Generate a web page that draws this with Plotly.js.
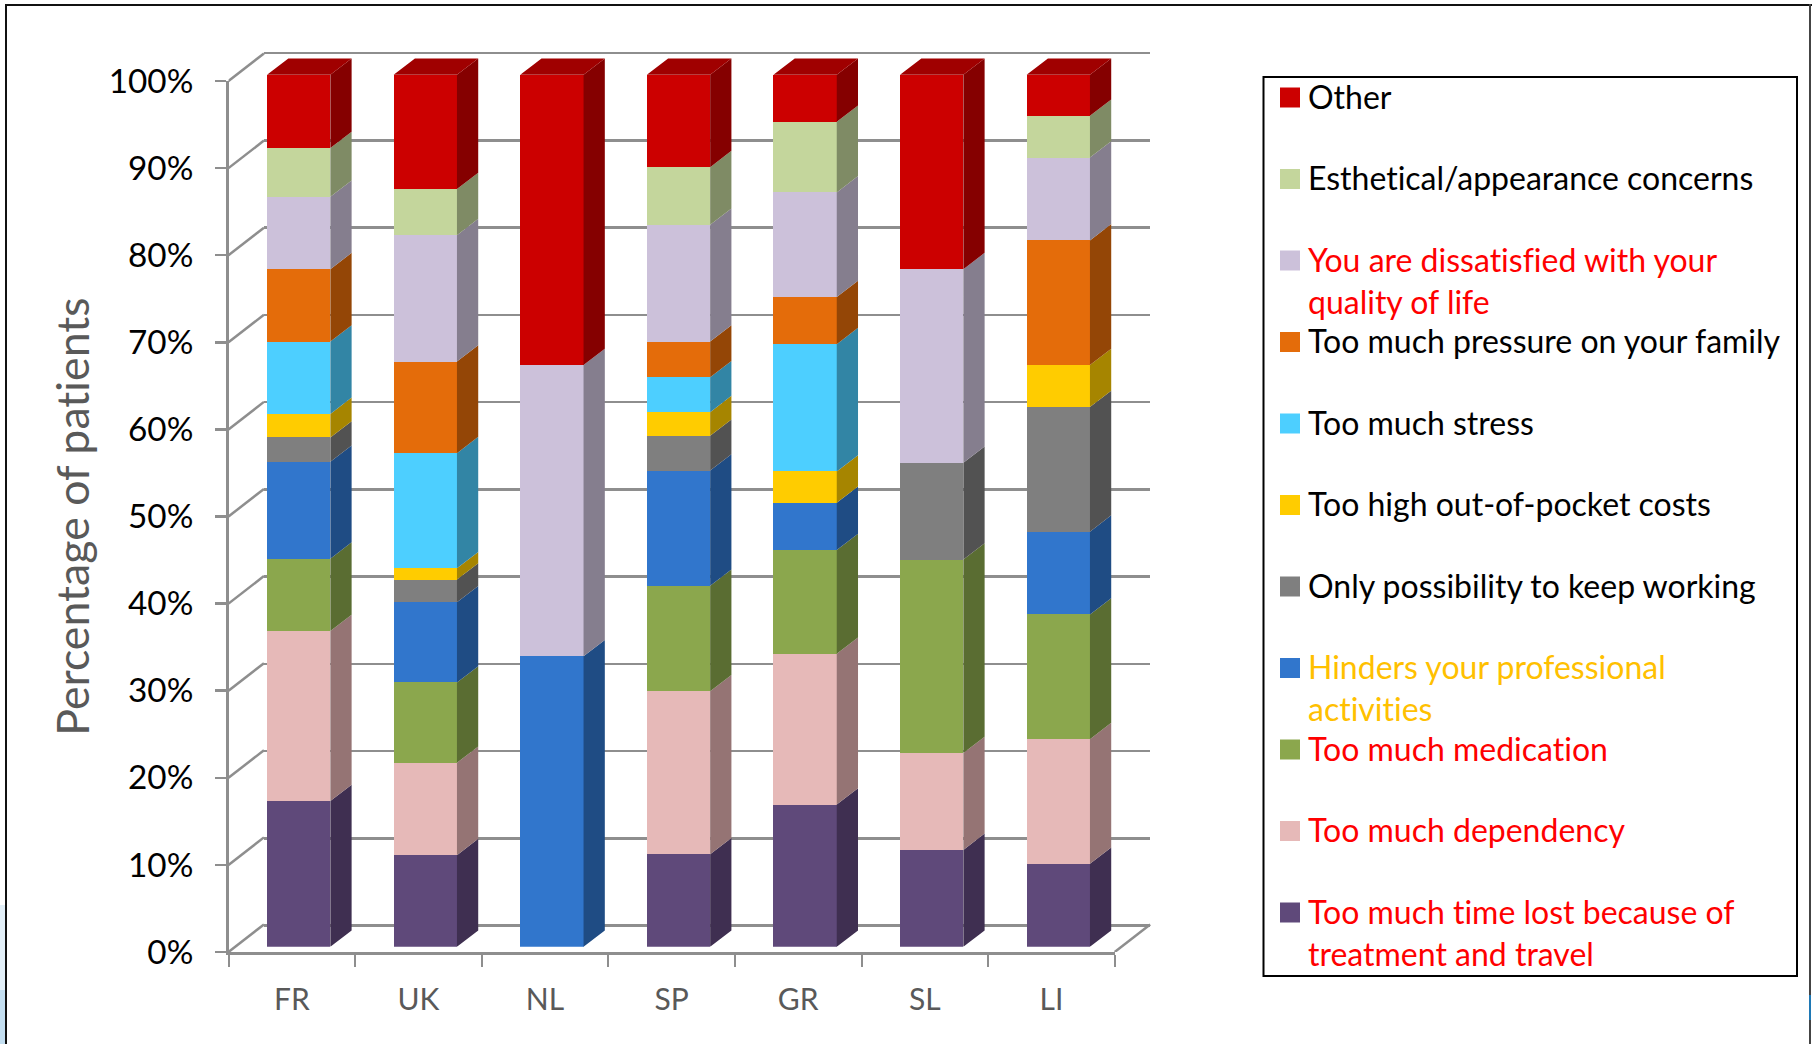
<!DOCTYPE html>
<html><head><meta charset="utf-8">
<script src="https://cdn.plot.ly/plotly-3.0.1.min.js"></script>
<style>html,body{margin:0;padding:0;background:#fff}#c{width:1812px;height:1044px}svg text{font-variant-ligatures:none !important;font-feature-settings:"liga" 0,"clig" 0 !important}</style>
</head><body><div id="c"></div>
<script>
const countries = ["FR","UK","NL","SP","GR","SL","LI"];
const seriesNames = [
  "Too much time lost because of treatment and travel",
  "Too much dependency",
  "Too much medication",
  "Hinders your professional activities",
  "Only possibility to keep working",
  "Too high out-of-pocket costs",
  "Too much stress",
  "Too much pressure on your family",
  "You are dissatisfied with your quality of life",
  "Esthetical/appearance concerns",
  "Other"
];
const legendLines = [
  ["Too much time lost because of","treatment and travel"],
  ["Too much dependency"],
  ["Too much medication"],
  ["Hinders your professional","activities"],
  ["Only possibility to keep working"],
  ["Too high out-of-pocket costs"],
  ["Too much stress"],
  ["Too much pressure on your family"],
  ["You are dissatisfied with your","quality of life"],
  ["Esthetical/appearance concerns"],
  ["Other"]
];
const legendTextColors = ["#FF0000","#FF0000","#FF0000","#FFC000","#000000","#000000","#000000","#000000","#FF0000","#000000","#000000"];
const faceColors = ["#5F497A","#E6B9B8","#8BA74D","#3176CC","#7F7F7F","#FFCC00","#4DCFFF","#E46C0A","#CCC1DA","#C4D69C","#CC0000"];
const sideColors = ["#3F2F51","#957474","#5A6D32","#1F4C84","#525252","#A68500","#3285A5","#944606","#857E8E","#7F8B65","#850000"];
const topColor = "#A00000";
const timeLost   = [16.7,10.5, 0,  10.6,16.3,11.1, 9.5];
const dependency = [19.5,10.6, 0,  18.7,17.3,11.1,14.3];
const medication = [ 8.3, 9.2, 0,  12.1,11.9,22.2,14.3];
const hinders    = [11.1, 9.2,33.3,13.2, 5.4, 0,   9.5];
const keepWorking= [ 2.8, 2.6, 0,   4.0, 0,  11.1,14.3];
const costs      = [ 2.7, 1.3, 0,   2.7, 3.6, 0,   4.8];
const stress     = [ 8.3,13.2, 0,   4.0,14.6, 0,   0  ];
const family     = [ 8.3,10.5, 0,   4.1, 5.4, 0,  14.3];
const quality    = [ 8.3,14.5,33.4,13.4,12.0,22.2, 9.5];
const esthetical = [ 5.6, 5.3, 0,   6.6, 8.1, 0,   4.8];
const other      = [ 8.4,13.1,33.3,10.6, 5.4,22.3, 4.7];
const seriesValues = [timeLost,dependency,medication,hinders,keepWorking,costs,stress,family,quality,esthetical,other];

const W=1812,H=1044,gray="#8E8E8E",textGray="#595959";
const FONT="Lato, 'Open Sans', sans-serif";
const fx=p=>p/W, fy=p=>1-p/H;
const barWidth=0.5, idx=countries.map((_,i)=>i);
const sideDX=0.168, sideDY=1.87;      // bar depth, in axis units
const wallDX=0.28, wallDY=3.16;       // chart depth, in axis units
const traces=[];

// back wall axes (x,y) carry the gridlines
traces.push({x:[0],y:[0],xaxis:"x",yaxis:"y",mode:"markers",marker:{opacity:0},hoverinfo:"skip",showlegend:false});
// side-wall diagonals and floor edge (x2,y2: front-plane scale, room for the depth)
const yTicks=[0,10,20,30,40,50,60,70,80,90,100];
const dx=[],dy=[];
yTicks.forEach(v=>{dx.push(-0.5,-0.5+wallDX,null);dy.push(v,v+wallDY,null);});
dx.push(6.5,6.5+wallDX);dy.push(0,wallDY);
traces.push({x:dx,y:dy,xaxis:"x2",yaxis:"y2",mode:"lines",line:{color:gray,width:2.5},hoverinfo:"skip",showlegend:false});
// front axes (x3,y3) carry ticks and labels
traces.push({x:idx,y:idx.map(()=>0),xaxis:"x3",yaxis:"y3",mode:"markers",marker:{opacity:0},hoverinfo:"skip",showlegend:false});

// 3-D side faces, top faces and fronts (x4,y4)
const base=idx.map(()=>0);
seriesValues.forEach((vals,s)=>{
  const sx=[],sy=[];
  vals.forEach((v,i)=>{
    if(v>0){
      const r=i+barWidth/2,y0=base[i],y1=base[i]+v;
      sx.push(r,r+sideDX,r+sideDX,r,r,null);
      sy.push(y0,y0+sideDY,y1+sideDY,y1,y0,null);
    }
  });
  traces.push({x:sx,y:sy,xaxis:"x4",yaxis:"y4",mode:"lines",fill:"toself",fillcolor:sideColors[s],line:{width:0,color:sideColors[s]},hoverinfo:"skip",showlegend:false});
  vals.forEach((v,i)=>{base[i]+=v;});
});
const tx=[],ty=[];
idx.forEach(i=>{
  const l=i-barWidth/2,r=i+barWidth/2,t=base[i];
  tx.push(l,l+sideDX,r+sideDX,r,l,null);
  ty.push(t,t+sideDY,t+sideDY,t,t,null);
});
traces.push({x:tx,y:ty,xaxis:"x4",yaxis:"y4",mode:"lines",fill:"toself",fillcolor:topColor,line:{width:0,color:topColor},hoverinfo:"skip",showlegend:false});
seriesValues.forEach((vals,s)=>{
  traces.push({type:"bar",name:seriesNames[s],x:idx,y:vals,width:barWidth,xaxis:"x4",yaxis:"y4",marker:{color:faceColors[s],line:{width:0}},showlegend:false});
});

// legend, built from the series lists
const shapes=[],annotations=[];
const legTop=97.5,legStep=81.5,lineStep=42;
legendLines.forEach((lines,s)=>{
  const row=seriesNames.length-1-s, yc=legTop+row*legStep;
  shapes.push({type:"rect",xref:"paper",yref:"paper",x0:fx(1280),x1:fx(1300),y0:fy(yc-10),y1:fy(yc+10),fillcolor:faceColors[s],line:{width:0}});
  lines.forEach((t,k)=>annotations.push({xref:"paper",yref:"paper",x:fx(1307),y:fy(yc-1.5+k*lineStep),xanchor:"left",yanchor:"middle",showarrow:false,align:"left",borderpad:0,text:t,font:{family:FONT,size:32,color:legendTextColors[s]}}));
});
shapes.push({type:"rect",xref:"paper",yref:"paper",x0:fx(1263.5),x1:fx(1797),y0:fy(77),y1:fy(976),line:{color:"#000",width:2},fillcolor:"rgba(0,0,0,0)"});
// slide frame and the bits of slide background visible outside it
const frame=(x0,y0,x1,y1,c)=>shapes.push({type:"rect",xref:"paper",yref:"paper",x0:fx(x0),x1:fx(x1),y0:fy(y0),y1:fy(y1),fillcolor:c,line:{width:0},layer:"below"});
frame(0,905,5,990,"#E2EFF8");
frame(0,990,5,1044,"#C4DFF1");
frame(5,4,1812,6,"#111111");
frame(5,4,7,1044,"#111111");
frame(1809,4,1811,1044,"#444444");
frame(1809,995,1811,1020,"#1F78B4");

const pxPerPct=8.71, headroom=8;
const layout={
  width:W,height:H,margin:{l:0,r:0,t:0,b:0},paper_bgcolor:"#fff",plot_bgcolor:"rgba(0,0,0,0)",
  barmode:"stack",showlegend:false,hovermode:false,bargap:0.5,
  font:{family:FONT},
  xaxis:{domain:[fx(264),fx(1150)],range:[-0.5,6.5],visible:false},
  yaxis:{domain:[fy(925.5),fy(53-3*pxPerPct)],range:[0,103],showticklabels:false,ticks:"",showline:false,tickvals:yTicks,showgrid:true,gridcolor:gray,gridwidth:2.5,zeroline:true,zerolinecolor:gray,zerolinewidth:2.5},
  xaxis2:{domain:[fx(228.5),fx(1114.7+0.4*126.6)],range:[-0.5,6.9],anchor:"y2",visible:false},
  yaxis2:{domain:[fy(952),fy(81-headroom*pxPerPct)],range:[0,100+headroom],anchor:"x2",visible:false},
  xaxis3:{domain:[fx(228.5),fx(1114.7)],range:[-0.5,6.5],anchor:"y3",tickmode:"array",tickvals:idx,ticktext:countries,ticks:"",showgrid:false,zeroline:false,showline:true,linecolor:gray,linewidth:2.5,ticklabelstandoff:19,
    tickfont:{family:FONT,size:30,color:textGray},
    minor:{tickmode:"array",tickvals:idx.concat([7]).map(i=>i-0.5),ticks:"outside",ticklen:12,tickcolor:gray,tickwidth:2,showgrid:false}},
  yaxis3:{domain:[fy(952),fy(81)],range:[0,100],anchor:"x3",tickvals:yTicks,ticktext:yTicks.map(v=>v+"%"),ticks:"outside",ticklen:11,tickcolor:gray,tickwidth:2.5,showgrid:false,zeroline:false,showline:true,linecolor:gray,linewidth:2.5,ticklabelstandoff:15,
    tickfont:{family:FONT,size:33.3,color:"#000"},
    title:{text:"Percentage of patients",standoff:5,font:{family:FONT,size:44.7,color:textGray}}},
  xaxis4:{domain:[fx(235.4),fx(1121.6)],range:[-0.5,6.5],anchor:"y4",visible:false},
  yaxis4:{domain:[fy(946.7),fy(74.7-headroom*8.72)],range:[0,100+headroom],anchor:"x4",visible:false},
  shapes,annotations
};
Plotly.newPlot("c",traces,layout,{displayModeBar:false,staticPlot:true});
</script></body></html>
